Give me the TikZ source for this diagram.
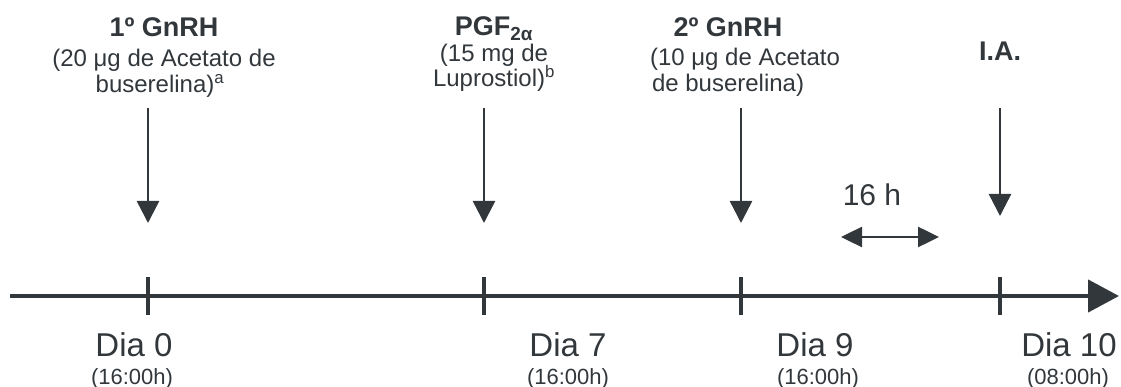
\documentclass[tikz,border=0pt]{standalone}
\usepackage{fontspec}
\setmainfont{Liberation Sans}
\usetikzlibrary{arrows.meta}
\definecolor{ink}{RGB}{50,55,60}
\begin{document}
\begin{tikzpicture}[x=1pt,y=-1pt,
  every node/.style={inner sep=0pt,outer sep=0pt,text=ink},
  title/.style={font=\fontsize{27}{30}\selectfont\bfseries,anchor=base},
  body/.style={font=\fontsize{24}{28}\selectfont,anchor=base},
  bodyleft/.style={font=\fontsize{24}{28}\selectfont,anchor=base west},
  daylabel/.style={font=\fontsize{33}{38}\selectfont,anchor=base},
  timelabel/.style={font=\fontsize{22}{25}\selectfont,anchor=base},
  axis/.style={draw=ink,line width=4.5pt,-{Triangle[width=32pt,length=31pt]}},
  tickmark/.style={draw=ink,line width=4.5pt},
  down/.style={draw=ink,line width=2.5pt,-{Triangle[width=22pt,length=22pt]}},
  span/.style={draw=ink,line width=2.5pt,{Triangle[width=20pt,length=21pt]}-{Triangle[width=20pt,length=21pt]}}
]
\useasboundingbox (0,0) rectangle (1121,387);

% timeline
\coordinate (start) at (10,296);
\coordinate (end) at (1119,296);
\coordinate (t0) at (148,296);
\coordinate (t7) at (484,296);
\coordinate (t9) at (741,296);
\coordinate (t10) at (1000,296);
\draw[axis] (start) -- (end);
\foreach \t in {t0,t7,t9,t10}
  \draw[tickmark] ([yshift=-19pt]\t) -- ([yshift=19pt]\t);

% top labels
\node[title] (g1) at (164,37) {1º GnRH};
\node[body] (g1a) at (164,67) {(20 μg de Acetato de};
\node[body] (g1b) at (160,93) {buserelina)\textsuperscript{a}};

\node[title] (pgf) at (494,36) {PGF\textsubscript{2α}};
\node[body] (pgfa) at (494,62) {(15 mg de};
\node[body] (pgfb) at (494,87) {Luprostiol)\textsuperscript{b}};

\node[title] (g2) at (728,37) {2º GnRH};
\node[bodyleft] (g2a) at (650,66) {(10 μg de Acetato};
\node[bodyleft] (g2b) at (652,92) {de buserelina)};

\node[title] (ia) at (1000,61) {I.A.};

% down arrows
\coordinate (a0) at (148,108);
\coordinate (a0e) at (148,223);
\coordinate (a7) at (484,108);
\coordinate (a7e) at (484,223);
\coordinate (a9) at (741,108);
\coordinate (a9e) at (741,223);
\coordinate (a10) at (1000,108);
\coordinate (a10e) at (1000,216);
\draw[down] (a0) -- (a0e);
\draw[down] (a7) -- (a7e);
\draw[down] (a9) -- (a9e);
\draw[down] (a10) -- (a10e);

% 16 h interval
\node[daylabel,font=\fontsize{30}{34}\selectfont] (h16) at (872,206) {16 h};
\coordinate (s1) at (841,237);
\coordinate (s2) at (939,237);
\draw[span] (s1) -- (s2);

% bottom labels
\node[daylabel] (d0) at (134,356) {Dia 0};
\node[timelabel] (h0) at (132,384) {(16:00h)};
\node[daylabel] (d7) at (568,356) {Dia 7};
\node[timelabel] (h7) at (568,384) {(16:00h)};
\node[daylabel] (d9) at (815,356) {Dia 9};
\node[timelabel] (h9) at (818,384) {(16:00h)};
\node[daylabel] (d10) at (1069,356) {Dia 10};
\node[timelabel] (h10) at (1068,384) {(08:00h)};
\end{tikzpicture}
\end{document}
